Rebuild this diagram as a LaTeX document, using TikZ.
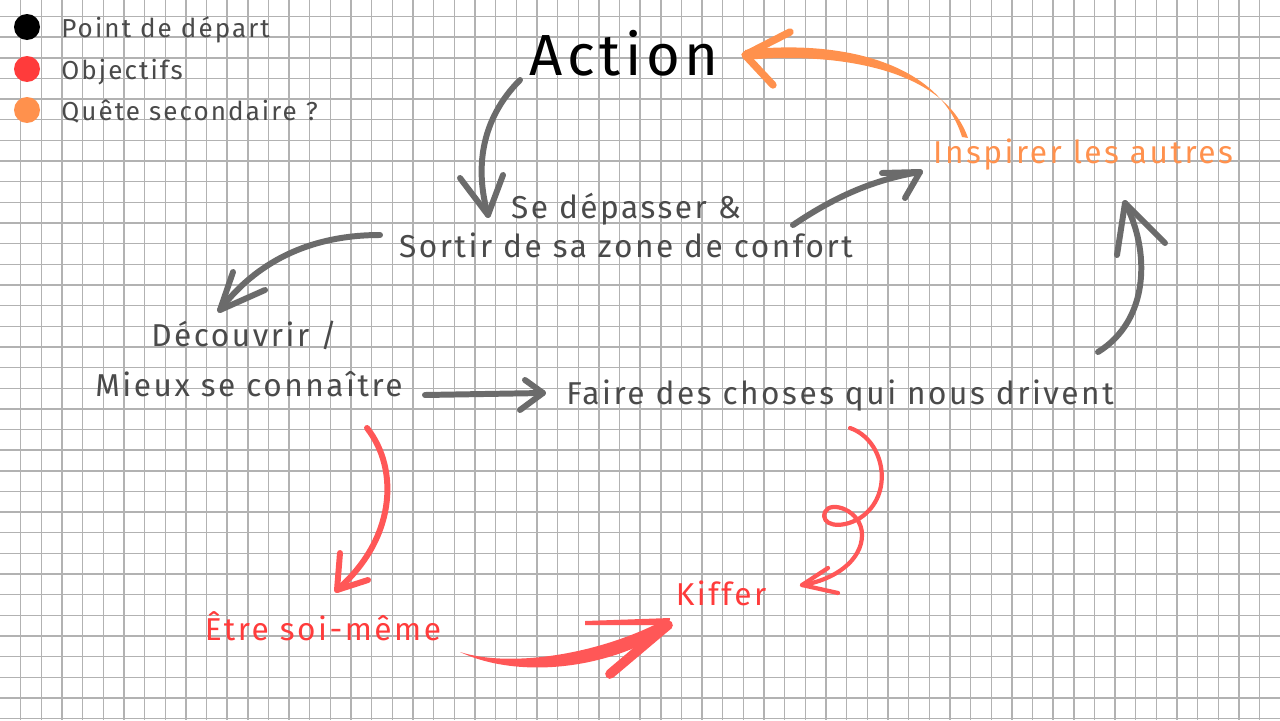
\documentclass[tikz,border=0pt]{standalone}
\usepackage{fontspec}
\setmainfont{Fira Sans}[LetterSpace=8]
\usepackage{xcolor}
\definecolor{ink}{HTML}{4A4A4A}
\definecolor{pen}{HTML}{6B6B6B}
\definecolor{cherry}{HTML}{FF5757}
\definecolor{tomato}{HTML}{FF3B3B}
\definecolor{tangerine}{HTML}{FF914D}
\usepackage{tikz}
\usetikzlibrary{positioning,calc}

\tikzset{
  grid line/.style={gray!60, line width=0.8pt},
  label/.style={text=ink, inner sep=0pt, font=\fontsize{18}{21}\selectfont},
  legend/.style={text=ink, inner sep=0pt, anchor=base west, font=\fontsize{14.8}{17}\selectfont},
  brush/.style={line width=3.4pt, line cap=round, line join=round},
}

\begin{document}
\begin{tikzpicture}[x=0.02cm, y=-0.02cm]
\useasboundingbox (0,0) rectangle (1280,720);
\fill[white] (0,0) rectangle (1280,720);

% squared paper
\foreach \i in {1,...,61}
  \draw[grid line] (20.65*\i,0) -- (20.65*\i,720);
\foreach \j in {0,...,34}
  \draw[grid line] (0,16.5+20.65*\j) -- (1280,16.5+20.65*\j);

% legend
\fill[black] (27,27) circle (13);
\fill[tomato] (27,69) circle (13);
\fill[tangerine] (27,110) circle (13);
\node[legend] (depart) at (61,37) {Point de départ};
\node[legend] (obj) at (61,79) {Objectifs};
\node[legend] (quete) at (61,120) {Quête secondaire ?};

% words
\node[inner sep=0pt, anchor=base, font=\fontsize{33}{38}\selectfont] (action) at (624,75) {Action};
\node[label, anchor=base] (depasser) at (626,218) {Se dépasser \&};
\node[label, anchor=base] (sortir) at (626,257) {Sortir de sa zone de confort};
\node[label, anchor=base] (decouvrir) at (244,346) {Découvrir /};
\node[label, anchor=base] (mieux) at (249,396) {Mieux se connaître};
\node[label, anchor=base] (faire) at (840,404) {Faire des choses qui nous drivent};
\node[label, anchor=base, text=tangerine] (inspirer) at (1083,163) {Inspirer les autres};
\node[label, anchor=base, text=tomato] (etre) at (323,640) {Être soi-même};
\node[label, anchor=base, text=tomato] (kiffer) at (721,605) {Kiffer};

% gray arrows
\draw[brush, pen] ([shift={(-104,5)}]action.base) .. controls +(-40,40) and +(-13,-45) .. ([shift={(-138,-3)}]depasser.base);
\draw[brush, pen] ([shift={(-166,-40)}]depasser.base) -- ([shift={(-138,-3)}]depasser.base) -- ([shift={(-123,-43)}]depasser.base);

\draw[brush, pen] ([shift={(-246,-22)}]sortir.base) .. controls +(-80,0) and +(30,-40) .. ([shift={(-24,-36)}]decouvrir.base);
\draw[brush, pen] ([shift={(-11,-74)}]decouvrir.base) -- ([shift={(-24,-36)}]decouvrir.base) -- ([shift={(21,-56)}]decouvrir.base);

\draw[brush, pen] ([shift={(176,-1)}]mieux.base) -- ([shift={(-297,-11)}]faire.base);
\draw[brush, pen] ([shift={(-315,-24)}]faire.base) -- ([shift={(-297,-11)}]faire.base) -- ([shift={(-320,6)}]faire.base);

\draw[brush, pen] ([shift={(167,-32)}]sortir.base) .. controls +(37,-25) and +(-50,8) .. ([shift={(-163,9)}]inspirer.base);
\draw[brush, pen] ([shift={(-201,10)}]inspirer.base) -- ([shift={(-163,9)}]inspirer.base) -- ([shift={(-178,35)}]inspirer.base);

\draw[brush, pen] ([shift={(258,-52)}]faire.base) .. controls +(52,-32) and +(25,47) .. ([shift={(42,40)}]inspirer.base);
\draw[brush, pen] ([shift={(34,92)}]inspirer.base) -- ([shift={(42,40)}]inspirer.base) -- ([shift={(82,80)}]inspirer.base);

% orange arrow, thin at the start
\fill[tangerine] ([shift={(-121,-26)}]inspirer.base) .. controls +(-25,-80) and +(85,-10) .. ([shift={(121,-25)}]action.base)
  -- ([shift={(121,-15)}]action.base) .. controls +(85,-8) and +(-25,-72) .. ([shift={(-115,-25)}]inspirer.base) -- cycle;
\draw[brush, tangerine, line width=4.2pt] ([shift={(166,-43)}]action.base) -- ([shift={(121,-20)}]action.base) -- ([shift={(149,10)}]action.base);

% red arrows
\draw[brush, cherry] ([shift={(118,32)}]mieux.base) .. controls +(33,42) and +(58,-50) .. ([shift={(14,-50)}]etre.base);
\draw[brush, cherry] ([shift={(17,-87)}]etre.base) -- ([shift={(14,-50)}]etre.base) -- ([shift={(45,-60)}]etre.base);

\draw[brush, cherry, line width=2.4pt] ([shift={(10,24)}]faire.base) .. controls +(35,12) and +(35,-23) .. ([shift={(20,114)}]faire.base)
  .. controls +(-20,12) and +(-5,13) .. ([shift={(-15,108)}]faire.base)
  .. controls +(5,-12) and +(0,-25) .. ([shift={(22,131)}]faire.base)
  .. controls +(0,25) and +(33,-5) .. ([shift={(81,-20)}]kiffer.base);
\draw[brush, cherry, line width=2.4pt] ([shift={(107,-37)}]kiffer.base) -- ([shift={(81,-20)}]kiffer.base) -- ([shift={(117,-12)}]kiffer.base);

\fill[cherry] ([shift={(137,12)}]etre.base) .. controls +(50,16) and +(-68,37) .. ([shift={(-53,13)}]kiffer.base)
  -- ([shift={(-49,23)}]kiffer.base) .. controls +(-67,44) and +(55,26) .. ([shift={(137,12)}]etre.base) -- cycle;
\fill[cherry] ([shift={(-136,16)}]kiffer.base) -- ([shift={(-51,13)}]kiffer.base) -- ([shift={(-52,20)}]kiffer.base) -- ([shift={(-136,20)}]kiffer.base) -- cycle;
\draw[brush, cherry, line width=5.5pt] ([shift={(-53,20)}]kiffer.base) -- ([shift={(-111,69)}]kiffer.base);
\end{tikzpicture}
\end{document}
